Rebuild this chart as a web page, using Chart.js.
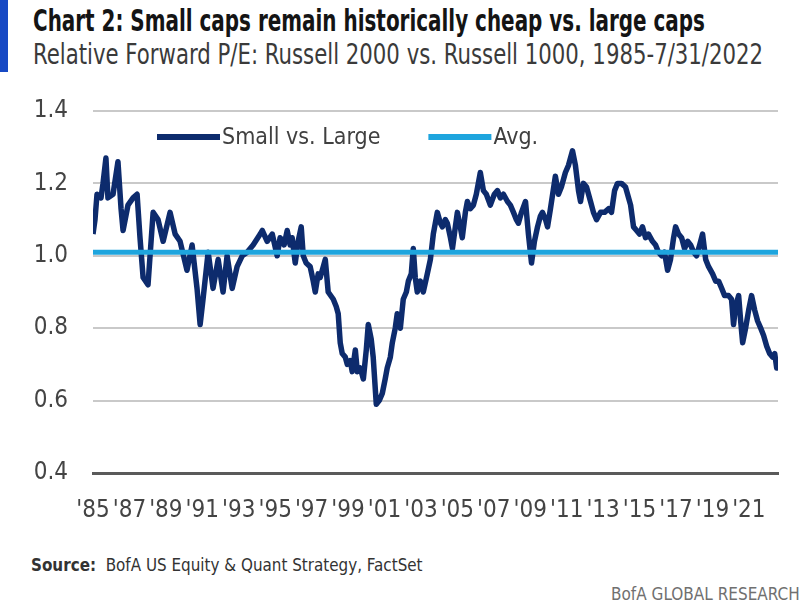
<!DOCTYPE html>
<html lang="en">
<head>
<meta charset="UTF-8">
<title>Small caps remain historically cheap vs. large caps</title>
<style>
    body {
        margin: 0;
        padding: 0;
        background: #fff;
        font-family: 'Liberation Sans Narrow', 'DejaVu Sans Condensed', sans-serif;
    }
    #page { position: relative; width: 804px; height: 604px; overflow: hidden; }
    .bar { position: absolute; left: 0; top: 0; width: 8px; height: 72px; background: #1749c4; }
    .fit { position: absolute; white-space: nowrap; transform-origin: 0 0; line-height: 1; }
    #title { left: 33px; top: 5px; font-size: 31px; font-weight: bold; color: #141414; }
    #subtitle { left: 33px; top: 41px; font-size: 28px; color: #3a3a3a; }
    #source { left: 31px; top: 557px; font-size: 17px; color: #333; }
    #brand { left: 611px; top: 586px; font-size: 17px; color: #707070; }
    #chartBox { position: absolute; left: 0; top: 80px; width: 804px; height: 460px; }
</style>
<script src="https://cdn.jsdelivr.net/npm/chart.js"></script>
</head>
<body>
<div id="page">
    <div class="bar"></div>
    <div id="title" class="fit" data-w="672">Chart 2: Small caps remain historically cheap vs. large caps</div>
    <div id="subtitle" class="fit" data-w="730">Relative Forward P/E: Russell 2000 vs. Russell 1000, 1985-7/31/2022</div>
    <div id="chartBox"><canvas id="peChart" width="804" height="460"></canvas></div>
    <div id="source" class="fit" data-w="392"><b>Source:</b>&nbsp; BofA US Equity &amp; Quant Strategy, FactSet</div>
    <div id="brand" class="fit" data-w="189">BofA GLOBAL RESEARCH</div>
</div>

<script>
    // Relative forward P/E (decimal years)
    const years = [
        1985.00, 1985.11, 1985.22, 1985.44, 1985.55, 1985.71, 1985.82, 1986.10, 1986.37, 1986.54,
        1986.65, 1986.92, 1987.20, 1987.42, 1987.58, 1987.75, 1988.02, 1988.30, 1988.57, 1988.85,
        1989.23, 1989.51, 1989.78, 1990.16, 1990.44, 1990.71, 1990.88, 1991.04, 1991.32, 1991.59,
        1991.87, 1992.14, 1992.36, 1992.64, 1992.91, 1993.19, 1993.46, 1993.79, 1994.18, 1994.29,
        1994.56, 1994.84, 1995.11, 1995.27, 1995.49, 1995.66, 1995.82, 1995.93, 1996.10, 1996.26,
        1996.43, 1996.54, 1996.70, 1996.92, 1997.09, 1997.20, 1997.36, 1997.47, 1997.64, 1997.75,
        1997.91, 1998.19, 1998.35, 1998.46, 1998.57, 1998.68, 1998.85, 1998.96, 1999.12, 1999.23,
        1999.40, 1999.51, 1999.67, 1999.84, 2000.00, 2000.11, 2000.27, 2000.38, 2000.55, 2000.71,
        2000.88, 2001.04, 2001.15, 2001.32, 2001.43, 2001.59, 2001.70, 2001.87, 2002.03, 2002.20,
        2002.31, 2002.47, 2002.58, 2002.69, 2002.80, 2002.97, 2003.13, 2003.35, 2003.52, 2003.68,
        2003.90, 2004.07, 2004.18, 2004.34, 2004.45, 2004.62, 2004.73, 2004.89, 2005.00, 2005.16,
        2005.27, 2005.44, 2005.55, 2005.71, 2005.88, 2006.04, 2006.26, 2006.43, 2006.59, 2006.81,
        2007.03, 2007.20, 2007.36, 2007.53, 2007.75, 2007.91, 2008.08, 2008.24, 2008.35, 2008.52,
        2008.74, 2008.90, 2009.07, 2009.23, 2009.40, 2009.56, 2009.67, 2009.84, 2009.95, 2010.11,
        2010.38, 2010.55, 2010.71, 2010.93, 2011.10, 2011.32, 2011.48, 2011.65, 2011.76, 2011.92,
        2012.09, 2012.31, 2012.47, 2012.64, 2012.86, 2013.08, 2013.30, 2013.46, 2013.63, 2013.79,
        2014.01, 2014.23, 2014.40, 2014.51, 2014.67, 2014.84, 2015.00, 2015.16, 2015.33, 2015.49,
        2015.71, 2015.88, 2016.04, 2016.21, 2016.37, 2016.54, 2016.70, 2016.87, 2016.98, 2017.14,
        2017.31, 2017.47, 2017.64, 2017.80, 2017.97, 2018.13, 2018.30, 2018.46, 2018.63, 2018.79,
        2019.01, 2019.18, 2019.34, 2019.51, 2019.67, 2019.89, 2020.05, 2020.16, 2020.27, 2020.44,
        2020.55, 2020.66, 2020.82, 2020.99, 2021.15, 2021.32, 2021.48, 2021.65, 2021.81, 2021.98,
        2022.14, 2022.31, 2022.42, 2022.53, 2022.58
    ];
    const smallVsLarge = [
        1.06, 1.10, 1.17, 1.16, 1.20, 1.27, 1.16, 1.17, 1.26, 1.13,
        1.07, 1.14, 1.16, 1.17, 1.05, 0.94, 0.92, 1.12, 1.10, 1.04,
        1.12, 1.06, 1.04, 0.96, 1.03, 0.91, 0.81, 0.88, 1.01, 0.91,
        0.99, 0.90, 1.00, 0.91, 0.97, 1.00, 1.01, 1.03, 1.06, 1.07,
        1.04, 1.06, 1.00, 1.05, 1.03, 1.07, 1.03, 1.05, 0.98, 1.04,
        1.08, 1.00, 0.98, 0.97, 0.93, 0.90, 0.95, 0.94, 0.97, 0.99,
        0.90, 0.88, 0.86, 0.84, 0.76, 0.73, 0.72, 0.70, 0.71, 0.68,
        0.74, 0.68, 0.69, 0.66, 0.74, 0.81, 0.77, 0.72, 0.59, 0.60,
        0.62, 0.66, 0.69, 0.72, 0.76, 0.80, 0.84, 0.80, 0.88, 0.90,
        0.93, 0.95, 1.02, 0.94, 0.90, 0.93, 0.90, 0.95, 0.99, 1.06,
        1.12, 1.09, 1.08, 1.10, 1.09, 1.05, 1.02, 1.08, 1.12, 1.08,
        1.05, 1.12, 1.15, 1.13, 1.14, 1.17, 1.23, 1.18, 1.17, 1.14,
        1.17, 1.18, 1.16, 1.17, 1.15, 1.14, 1.12, 1.10, 1.09, 1.12,
        1.15, 1.06, 0.98, 1.04, 1.08, 1.11, 1.12, 1.10, 1.08, 1.13,
        1.22, 1.17, 1.19, 1.23, 1.25, 1.29, 1.25, 1.18, 1.15, 1.20,
        1.19, 1.15, 1.12, 1.10, 1.12, 1.12, 1.13, 1.12, 1.18, 1.20,
        1.20, 1.19, 1.16, 1.14, 1.08, 1.07, 1.06, 1.08, 1.05, 1.06,
        1.04, 1.03, 1.01, 1.00, 1.01, 0.96, 0.99, 1.05, 1.08, 1.06,
        1.05, 1.02, 1.04, 1.03, 1.01, 1.00, 1.03, 1.06, 0.99, 0.97,
        0.95, 0.93, 0.93, 0.91, 0.89, 0.89, 0.88, 0.81, 0.86, 0.89,
        0.82, 0.76, 0.80, 0.85, 0.89, 0.85, 0.82, 0.80, 0.78, 0.75,
        0.73, 0.72, 0.73, 0.69, 0.71
    ];
    const avgValue = 1.01;
    const xStart = 1985;
    const xEnd = 2022.6;

    const tickYears = [1985, 1987, 1989, 1991, 1993, 1995, 1997, 1999, 2001, 2003,
                       2005, 2007, 2009, 2011, 2013, 2015, 2017, 2019, 2021];
    const tickLabels = ["'85", "'87", "'89", "'91", "'93", "'95", "'97", "'99", "'01", "'03",
                        "'05", "'07", "'09", "'11", "'13", "'15", "'17", "'19", "'21"];

    const navy = '#0d2b6d';
    const cyan = '#1ea5de';
    const fontStack = "'Liberation Sans Narrow', 'DejaVu Sans Condensed', sans-serif";

    // squeeze header/footer text to the widths seen in the picture
    document.querySelectorAll('.fit').forEach(el => {
        const target = parseFloat(el.dataset.w);
        el.style.transform = 'scaleX(' + (target / el.offsetWidth) + ')';
    });

    // legend drawn inside the plot area, as in the original
    const inlineLegend = {
        id: 'inlineLegend',
        afterDraw(chart) {
            const ctx = chart.ctx;
            const area = chart.chartArea;
            const y = area.top + 26;
            let x = area.left + 64;
            ctx.save();
            ctx.font = '23px ' + fontStack;
            ctx.textBaseline = 'middle';
            ctx.fillStyle = '#404040';
            [chart.data.datasets[1], chart.data.datasets[0]].forEach(ds => {
                ctx.strokeStyle = ds.borderColor;
                ctx.lineWidth = 6;
                ctx.beginPath();
                ctx.moveTo(x, y);
                ctx.lineTo(x + 63, y);
                ctx.stroke();
                x += 65;
                ctx.fillText(ds.label, x, y + 1);
                x += ctx.measureText(ds.label).width + 48;
            });
            ctx.restore();
        }
    };

    Chart.defaults.font.family = fontStack;

    const ctx = document.getElementById('peChart').getContext('2d');
    new Chart(ctx, {
        type: 'line',
        data: {
            datasets: [
                {
                    label: 'Avg.',
                    data: [{ x: xStart, y: avgValue }, { x: xEnd, y: avgValue }],
                    borderColor: cyan,
                    borderWidth: 5,
                    pointRadius: 0
                },
                {
                    label: 'Small vs. Large',
                    data: years.map((yr, i) => ({ x: yr, y: smallVsLarge[i] })),
                    borderColor: navy,
                    borderWidth: 5.5,
                    pointRadius: 0,
                    tension: 0,
                    borderJoinStyle: 'round'
                }
            ]
        },
        options: {
            responsive: false,
            animation: false,
            layout: { padding: { top: 31, right: 26, left: 0, bottom: 0 } },
            plugins: { legend: { display: false }, tooltip: { enabled: false } },
            scales: {
                x: {
                    type: 'linear',
                    min: xStart,
                    max: xEnd,
                    grid: { display: false },
                    border: { display: true, color: '#5a5a5a', width: 3 },
                    afterBuildTicks: s => { s.ticks = tickYears.map(v => ({ value: v })); },
                    afterFit: s => { s.height = 67; s.paddingLeft = 0; s.paddingRight = 0; },
                    ticks: {
                        autoSkip: false,
                        maxRotation: 0,
                        padding: 15,
                        color: '#444',
                        font: { size: 24 },
                        callback: (v, i) => tickLabels[i]
                    }
                },
                y: {
                    min: 0.4,
                    max: 1.4,
                    afterFit: s => { s.width = 93; s.paddingTop = 0; s.paddingBottom = 0; },
                    border: { display: false },
                    grid: { color: '#c9c9c9', lineWidth: 2, drawTicks: false },
                    ticks: {
                        stepSize: 0.2,
                        padding: 25,
                        color: '#444',
                        font: { size: 24 },
                        callback: v => v.toFixed(1)
                    }
                }
            }
        },
        plugins: [inlineLegend]
    });
</script>
</body>
</html>
